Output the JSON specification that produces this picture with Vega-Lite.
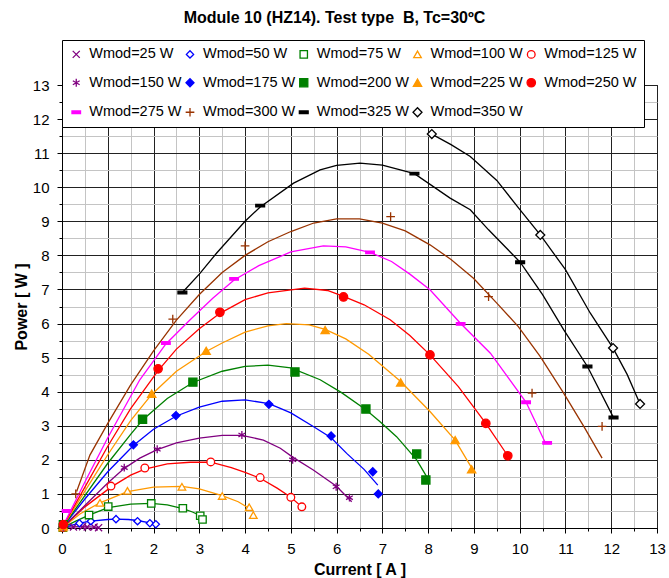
{
  "$schema": "https://vega.github.io/schema/vega-lite/v6.json",
  "width": 595,
  "height": 443,
  "autosize": {"type": "none"},
  "padding": {"left": 62, "top": 85, "right": 12, "bottom": 50},
  "background": "white",
  "title": {"text": "Module 10 (HZ14). Test type\u00a0 B, Tc=30ºC", "font": "Liberation Sans", "fontSize": 16, "fontWeight": "bold", "color": "black", "anchor": "middle", "frame": "group", "dx": -25, "offset": 14},
  "config": {
    "view": {"stroke": "black", "strokeWidth": 1},
    "font": "Liberation Sans",
    "legend": {"strokeColor": "black", "fillColor": "white", "direction": "horizontal"}
  },
  "datasets": {
    "pts": [
      {"series": "Wmod=25 W", "current": 0.25, "power": 0.03},
      {"series": "Wmod=25 W", "current": 0.45, "power": 0.04},
      {"series": "Wmod=25 W", "current": 0.55, "power": 0.03},
      {"series": "Wmod=25 W", "current": 0.7, "power": 0.03},
      {"series": "Wmod=25 W", "current": 0.8, "power": 0.01},
      {"series": "Wmod=50 W", "current": 0.02, "power": 0.01},
      {"series": "Wmod=50 W", "current": 0.38, "power": 0.14},
      {"series": "Wmod=50 W", "current": 0.63, "power": 0.2},
      {"series": "Wmod=50 W", "current": 1.18, "power": 0.26},
      {"series": "Wmod=50 W", "current": 1.65, "power": 0.2},
      {"series": "Wmod=50 W", "current": 1.92, "power": 0.14},
      {"series": "Wmod=50 W", "current": 2.05, "power": 0.11},
      {"series": "Wmod=75 W", "current": 0.02, "power": 0.01},
      {"series": "Wmod=75 W", "current": 0.59, "power": 0.38},
      {"series": "Wmod=75 W", "current": 1.01, "power": 0.63},
      {"series": "Wmod=75 W", "current": 1.95, "power": 0.72},
      {"series": "Wmod=75 W", "current": 2.64, "power": 0.58},
      {"series": "Wmod=75 W", "current": 3.02, "power": 0.36},
      {"series": "Wmod=75 W", "current": 3.07, "power": 0.25},
      {"series": "Wmod=100 W", "current": 0.02, "power": 0.01},
      {"series": "Wmod=100 W", "current": 0.83, "power": 0.74},
      {"series": "Wmod=100 W", "current": 1.43, "power": 1.09},
      {"series": "Wmod=100 W", "current": 2.62, "power": 1.21},
      {"series": "Wmod=100 W", "current": 3.5, "power": 0.94},
      {"series": "Wmod=100 W", "current": 4.09, "power": 0.61},
      {"series": "Wmod=100 W", "current": 4.18, "power": 0.38},
      {"series": "Wmod=125 W", "current": 0.02, "power": 0.02},
      {"series": "Wmod=125 W", "current": 1.07, "power": 1.23},
      {"series": "Wmod=125 W", "current": 1.81, "power": 1.76},
      {"series": "Wmod=125 W", "current": 3.25, "power": 1.94},
      {"series": "Wmod=125 W", "current": 4.33, "power": 1.48},
      {"series": "Wmod=125 W", "current": 5.0, "power": 0.9},
      {"series": "Wmod=125 W", "current": 5.24, "power": 0.62},
      {"series": "Wmod=150 W", "current": 0.03, "power": 0.02},
      {"series": "Wmod=150 W", "current": 1.36, "power": 1.77},
      {"series": "Wmod=150 W", "current": 2.08, "power": 2.31},
      {"series": "Wmod=150 W", "current": 3.93, "power": 2.73},
      {"series": "Wmod=150 W", "current": 5.04, "power": 2.0},
      {"series": "Wmod=150 W", "current": 5.99, "power": 1.21},
      {"series": "Wmod=150 W", "current": 6.28, "power": 0.89},
      {"series": "Wmod=175 W", "current": 0.03, "power": 0.05},
      {"series": "Wmod=175 W", "current": 1.56, "power": 2.44},
      {"series": "Wmod=175 W", "current": 2.49, "power": 3.3},
      {"series": "Wmod=175 W", "current": 4.52, "power": 3.63},
      {"series": "Wmod=175 W", "current": 5.88, "power": 2.7},
      {"series": "Wmod=175 W", "current": 6.79, "power": 1.65},
      {"series": "Wmod=175 W", "current": 6.91, "power": 1.0},
      {"series": "Wmod=200 W", "current": 0.03, "power": 0.1},
      {"series": "Wmod=200 W", "current": 1.76, "power": 3.19},
      {"series": "Wmod=200 W", "current": 2.86, "power": 4.28},
      {"series": "Wmod=200 W", "current": 5.09, "power": 4.58},
      {"series": "Wmod=200 W", "current": 6.64, "power": 3.49},
      {"series": "Wmod=200 W", "current": 7.75, "power": 2.17},
      {"series": "Wmod=200 W", "current": 7.95, "power": 1.41},
      {"series": "Wmod=225 W", "current": 0.03, "power": 0.05},
      {"series": "Wmod=225 W", "current": 1.96, "power": 3.94},
      {"series": "Wmod=225 W", "current": 3.15, "power": 5.2},
      {"series": "Wmod=225 W", "current": 5.75, "power": 5.81},
      {"series": "Wmod=225 W", "current": 7.4, "power": 4.27},
      {"series": "Wmod=225 W", "current": 8.59, "power": 2.58},
      {"series": "Wmod=225 W", "current": 8.95, "power": 1.72},
      {"series": "Wmod=250 W", "current": 0.03, "power": 0.1},
      {"series": "Wmod=250 W", "current": 2.1, "power": 4.67},
      {"series": "Wmod=250 W", "current": 3.45, "power": 6.33},
      {"series": "Wmod=250 W", "current": 6.15, "power": 6.78},
      {"series": "Wmod=250 W", "current": 8.04, "power": 5.08},
      {"series": "Wmod=250 W", "current": 9.26, "power": 3.07},
      {"series": "Wmod=250 W", "current": 9.74, "power": 2.12},
      {"series": "Wmod=275 W", "current": 0.1, "power": 0.5},
      {"series": "Wmod=275 W", "current": 2.27, "power": 5.43},
      {"series": "Wmod=275 W", "current": 3.76, "power": 7.31},
      {"series": "Wmod=275 W", "current": 6.73, "power": 8.09},
      {"series": "Wmod=275 W", "current": 8.71, "power": 5.99},
      {"series": "Wmod=275 W", "current": 10.14, "power": 3.69},
      {"series": "Wmod=275 W", "current": 10.6, "power": 2.5},
      {"series": "Wmod=300 W", "current": 0.3, "power": 1.0},
      {"series": "Wmod=300 W", "current": 2.42, "power": 6.13},
      {"series": "Wmod=300 W", "current": 4.0, "power": 8.28},
      {"series": "Wmod=300 W", "current": 7.18, "power": 9.14},
      {"series": "Wmod=300 W", "current": 9.32, "power": 6.79},
      {"series": "Wmod=300 W", "current": 10.27, "power": 3.96},
      {"series": "Wmod=300 W", "current": 11.8, "power": 2.98},
      {"series": "Wmod=325 W", "current": 2.63, "power": 6.91},
      {"series": "Wmod=325 W", "current": 4.33, "power": 9.46},
      {"series": "Wmod=325 W", "current": 7.7, "power": 10.4},
      {"series": "Wmod=325 W", "current": 10.01, "power": 7.8},
      {"series": "Wmod=325 W", "current": 11.48, "power": 4.74},
      {"series": "Wmod=325 W", "current": 12.05, "power": 3.24},
      {"series": "Wmod=350 W", "current": 8.08, "power": 11.56},
      {"series": "Wmod=350 W", "current": 10.45, "power": 8.6},
      {"series": "Wmod=350 W", "current": 12.04, "power": 5.28},
      {"series": "Wmod=350 W", "current": 12.63, "power": 3.64}
    ],
    "crv": [
      {"series": "Wmod=25 W", "current": 0, "power": 0},
      {"series": "Wmod=25 W", "current": 0.2, "power": 0.03},
      {"series": "Wmod=25 W", "current": 0.4, "power": 0.04},
      {"series": "Wmod=25 W", "current": 0.6, "power": 0.035},
      {"series": "Wmod=25 W", "current": 0.8, "power": 0.02},
      {"series": "Wmod=50 W", "current": 0, "power": 0},
      {"series": "Wmod=50 W", "current": 0.38, "power": 0.14},
      {"series": "Wmod=50 W", "current": 0.63, "power": 0.2},
      {"series": "Wmod=50 W", "current": 1.0, "power": 0.25},
      {"series": "Wmod=50 W", "current": 1.18, "power": 0.26},
      {"series": "Wmod=50 W", "current": 1.45, "power": 0.25},
      {"series": "Wmod=50 W", "current": 1.65, "power": 0.22},
      {"series": "Wmod=50 W", "current": 1.92, "power": 0.15},
      {"series": "Wmod=50 W", "current": 2.0, "power": 0.12},
      {"series": "Wmod=75 W", "current": 0, "power": 0},
      {"series": "Wmod=75 W", "current": 0.3, "power": 0.2},
      {"series": "Wmod=75 W", "current": 0.59, "power": 0.38},
      {"series": "Wmod=75 W", "current": 1.01, "power": 0.6},
      {"series": "Wmod=75 W", "current": 1.5, "power": 0.7},
      {"series": "Wmod=75 W", "current": 1.95, "power": 0.72},
      {"series": "Wmod=75 W", "current": 2.3, "power": 0.68},
      {"series": "Wmod=75 W", "current": 2.64, "power": 0.57},
      {"series": "Wmod=75 W", "current": 2.85, "power": 0.47},
      {"series": "Wmod=75 W", "current": 3.0, "power": 0.38},
      {"series": "Wmod=100 W", "current": 0, "power": 0},
      {"series": "Wmod=100 W", "current": 0.4, "power": 0.42},
      {"series": "Wmod=100 W", "current": 0.83, "power": 0.74},
      {"series": "Wmod=100 W", "current": 1.43, "power": 1.07},
      {"series": "Wmod=100 W", "current": 2.0, "power": 1.2},
      {"series": "Wmod=100 W", "current": 2.62, "power": 1.22},
      {"series": "Wmod=100 W", "current": 3.0, "power": 1.15},
      {"series": "Wmod=100 W", "current": 3.5, "power": 0.95},
      {"series": "Wmod=100 W", "current": 3.85, "power": 0.77},
      {"series": "Wmod=100 W", "current": 4.12, "power": 0.55},
      {"series": "Wmod=125 W", "current": 0, "power": 0},
      {"series": "Wmod=125 W", "current": 0.5, "power": 0.62},
      {"series": "Wmod=125 W", "current": 1.07, "power": 1.2},
      {"series": "Wmod=125 W", "current": 1.5, "power": 1.55},
      {"series": "Wmod=125 W", "current": 1.81, "power": 1.73},
      {"series": "Wmod=125 W", "current": 2.3, "power": 1.88},
      {"series": "Wmod=125 W", "current": 2.8, "power": 1.93},
      {"series": "Wmod=125 W", "current": 3.25, "power": 1.93},
      {"series": "Wmod=125 W", "current": 3.7, "power": 1.77},
      {"series": "Wmod=125 W", "current": 4.0, "power": 1.63},
      {"series": "Wmod=125 W", "current": 4.33, "power": 1.46},
      {"series": "Wmod=125 W", "current": 4.7, "power": 1.17},
      {"series": "Wmod=125 W", "current": 5.0, "power": 0.9},
      {"series": "Wmod=125 W", "current": 5.24, "power": 0.62},
      {"series": "Wmod=150 W", "current": 0, "power": 0},
      {"series": "Wmod=150 W", "current": 0.5, "power": 0.66},
      {"series": "Wmod=150 W", "current": 1.0, "power": 1.32},
      {"series": "Wmod=150 W", "current": 1.36, "power": 1.75},
      {"series": "Wmod=150 W", "current": 1.7, "power": 2.05},
      {"series": "Wmod=150 W", "current": 2.08, "power": 2.3},
      {"series": "Wmod=150 W", "current": 2.5, "power": 2.5},
      {"series": "Wmod=150 W", "current": 3.0, "power": 2.64},
      {"series": "Wmod=150 W", "current": 3.5, "power": 2.72},
      {"series": "Wmod=150 W", "current": 3.93, "power": 2.72},
      {"series": "Wmod=150 W", "current": 4.4, "power": 2.58},
      {"series": "Wmod=150 W", "current": 4.77, "power": 2.34},
      {"series": "Wmod=150 W", "current": 5.04, "power": 2.08},
      {"series": "Wmod=150 W", "current": 5.49, "power": 1.7},
      {"series": "Wmod=150 W", "current": 5.99, "power": 1.23},
      {"series": "Wmod=150 W", "current": 6.33, "power": 0.77},
      {"series": "Wmod=175 W", "current": 0, "power": 0},
      {"series": "Wmod=175 W", "current": 0.5, "power": 0.85},
      {"series": "Wmod=175 W", "current": 1.0, "power": 1.65},
      {"series": "Wmod=175 W", "current": 1.56, "power": 2.42},
      {"series": "Wmod=175 W", "current": 2.0, "power": 2.9},
      {"series": "Wmod=175 W", "current": 2.49, "power": 3.28},
      {"series": "Wmod=175 W", "current": 3.0, "power": 3.55},
      {"series": "Wmod=175 W", "current": 3.5, "power": 3.72},
      {"series": "Wmod=175 W", "current": 4.0, "power": 3.76},
      {"series": "Wmod=175 W", "current": 4.52, "power": 3.65},
      {"series": "Wmod=175 W", "current": 4.77, "power": 3.51},
      {"series": "Wmod=175 W", "current": 5.0, "power": 3.38},
      {"series": "Wmod=175 W", "current": 5.49, "power": 2.98},
      {"series": "Wmod=175 W", "current": 5.88, "power": 2.65},
      {"series": "Wmod=175 W", "current": 6.22, "power": 2.19},
      {"series": "Wmod=175 W", "current": 6.6, "power": 1.72},
      {"series": "Wmod=175 W", "current": 6.9, "power": 1.26},
      {"series": "Wmod=200 W", "current": 0, "power": 0},
      {"series": "Wmod=200 W", "current": 0.5, "power": 0.95},
      {"series": "Wmod=200 W", "current": 1.0, "power": 1.9},
      {"series": "Wmod=200 W", "current": 1.5, "power": 2.75},
      {"series": "Wmod=200 W", "current": 1.76, "power": 3.17},
      {"series": "Wmod=200 W", "current": 2.3, "power": 3.8},
      {"series": "Wmod=200 W", "current": 2.86, "power": 4.27},
      {"series": "Wmod=200 W", "current": 3.5, "power": 4.6},
      {"series": "Wmod=200 W", "current": 4.0, "power": 4.74},
      {"series": "Wmod=200 W", "current": 4.5, "power": 4.78},
      {"series": "Wmod=200 W", "current": 5.0, "power": 4.7},
      {"series": "Wmod=200 W", "current": 5.64, "power": 4.35},
      {"series": "Wmod=200 W", "current": 6.1, "power": 3.98},
      {"series": "Wmod=200 W", "current": 6.64, "power": 3.47},
      {"series": "Wmod=200 W", "current": 6.95, "power": 3.12},
      {"series": "Wmod=200 W", "current": 7.31, "power": 2.68},
      {"series": "Wmod=200 W", "current": 7.75, "power": 2.0},
      {"series": "Wmod=200 W", "current": 7.97, "power": 1.5},
      {"series": "Wmod=225 W", "current": 0, "power": 0},
      {"series": "Wmod=225 W", "current": 0.5, "power": 1.08},
      {"series": "Wmod=225 W", "current": 1.0, "power": 2.15},
      {"series": "Wmod=225 W", "current": 1.5, "power": 3.15},
      {"series": "Wmod=225 W", "current": 1.96, "power": 3.92},
      {"series": "Wmod=225 W", "current": 2.5, "power": 4.6},
      {"series": "Wmod=225 W", "current": 3.15, "power": 5.18},
      {"series": "Wmod=225 W", "current": 3.5, "power": 5.43},
      {"series": "Wmod=225 W", "current": 4.0, "power": 5.75},
      {"series": "Wmod=225 W", "current": 4.5, "power": 5.93},
      {"series": "Wmod=225 W", "current": 4.9, "power": 6.0},
      {"series": "Wmod=225 W", "current": 5.4, "power": 5.96},
      {"series": "Wmod=225 W", "current": 5.75, "power": 5.83},
      {"series": "Wmod=225 W", "current": 6.2, "power": 5.55},
      {"series": "Wmod=225 W", "current": 6.7, "power": 5.1},
      {"series": "Wmod=225 W", "current": 7.4, "power": 4.3},
      {"series": "Wmod=225 W", "current": 8.04, "power": 3.42},
      {"series": "Wmod=225 W", "current": 8.59, "power": 2.58},
      {"series": "Wmod=225 W", "current": 8.97, "power": 1.72},
      {"series": "Wmod=250 W", "current": 0, "power": 0},
      {"series": "Wmod=250 W", "current": 0.5, "power": 1.2},
      {"series": "Wmod=250 W", "current": 1.0, "power": 2.4},
      {"series": "Wmod=250 W", "current": 1.5, "power": 3.5},
      {"series": "Wmod=250 W", "current": 2.1, "power": 4.62},
      {"series": "Wmod=250 W", "current": 2.5, "power": 5.25},
      {"series": "Wmod=250 W", "current": 3.0, "power": 5.85},
      {"series": "Wmod=250 W", "current": 3.45, "power": 6.3},
      {"series": "Wmod=250 W", "current": 4.0, "power": 6.7},
      {"series": "Wmod=250 W", "current": 4.5, "power": 6.9},
      {"series": "Wmod=250 W", "current": 5.3, "power": 7.04},
      {"series": "Wmod=250 W", "current": 5.8, "power": 6.97},
      {"series": "Wmod=250 W", "current": 6.15, "power": 6.8},
      {"series": "Wmod=250 W", "current": 6.6, "power": 6.55},
      {"series": "Wmod=250 W", "current": 7.17, "power": 6.11},
      {"series": "Wmod=250 W", "current": 7.6, "power": 5.65},
      {"series": "Wmod=250 W", "current": 8.04, "power": 5.08},
      {"series": "Wmod=250 W", "current": 8.66, "power": 4.15},
      {"series": "Wmod=250 W", "current": 9.26, "power": 3.07},
      {"series": "Wmod=250 W", "current": 9.74, "power": 2.12},
      {"series": "Wmod=275 W", "current": 0, "power": 0},
      {"series": "Wmod=275 W", "current": 0.5, "power": 1.35},
      {"series": "Wmod=275 W", "current": 1.0, "power": 2.65},
      {"series": "Wmod=275 W", "current": 1.7, "power": 4.35},
      {"series": "Wmod=275 W", "current": 2.27, "power": 5.4},
      {"series": "Wmod=275 W", "current": 2.8, "power": 6.11},
      {"series": "Wmod=275 W", "current": 3.3, "power": 6.75},
      {"series": "Wmod=275 W", "current": 3.76, "power": 7.28},
      {"series": "Wmod=275 W", "current": 4.3, "power": 7.7},
      {"series": "Wmod=275 W", "current": 5.0, "power": 8.1},
      {"series": "Wmod=275 W", "current": 5.71, "power": 8.28},
      {"series": "Wmod=275 W", "current": 6.2, "power": 8.25},
      {"series": "Wmod=275 W", "current": 6.73, "power": 8.09},
      {"series": "Wmod=275 W", "current": 7.2, "power": 7.82},
      {"series": "Wmod=275 W", "current": 7.6, "power": 7.45},
      {"series": "Wmod=275 W", "current": 8.04, "power": 6.99},
      {"series": "Wmod=275 W", "current": 8.71, "power": 6.0},
      {"series": "Wmod=275 W", "current": 9.36, "power": 5.13},
      {"series": "Wmod=275 W", "current": 10.14, "power": 3.69},
      {"series": "Wmod=275 W", "current": 10.56, "power": 2.5},
      {"series": "Wmod=300 W", "current": 0.32, "power": 1.07},
      {"series": "Wmod=300 W", "current": 0.61, "power": 2.14},
      {"series": "Wmod=300 W", "current": 1.0, "power": 3.07},
      {"series": "Wmod=300 W", "current": 1.5, "power": 4.2},
      {"series": "Wmod=300 W", "current": 2.0, "power": 5.2},
      {"series": "Wmod=300 W", "current": 2.5, "power": 6.1},
      {"series": "Wmod=300 W", "current": 3.0, "power": 6.85},
      {"series": "Wmod=300 W", "current": 3.5, "power": 7.5},
      {"series": "Wmod=300 W", "current": 4.0, "power": 8.0},
      {"series": "Wmod=300 W", "current": 4.5, "power": 8.4},
      {"series": "Wmod=300 W", "current": 5.0, "power": 8.7},
      {"series": "Wmod=300 W", "current": 5.5, "power": 8.95},
      {"series": "Wmod=300 W", "current": 6.0, "power": 9.07},
      {"series": "Wmod=300 W", "current": 6.5, "power": 9.07},
      {"series": "Wmod=300 W", "current": 7.0, "power": 8.95},
      {"series": "Wmod=300 W", "current": 7.5, "power": 8.72},
      {"series": "Wmod=300 W", "current": 8.04, "power": 8.31},
      {"series": "Wmod=300 W", "current": 8.5, "power": 7.88},
      {"series": "Wmod=300 W", "current": 8.99, "power": 7.33},
      {"series": "Wmod=300 W", "current": 9.5, "power": 6.6},
      {"series": "Wmod=300 W", "current": 9.97, "power": 5.91},
      {"series": "Wmod=300 W", "current": 10.45, "power": 5.03},
      {"series": "Wmod=300 W", "current": 10.96, "power": 3.96},
      {"series": "Wmod=300 W", "current": 11.4, "power": 2.98},
      {"series": "Wmod=300 W", "current": 11.8, "power": 2.05},
      {"series": "Wmod=325 W", "current": 2.63, "power": 6.91},
      {"series": "Wmod=325 W", "current": 3.0, "power": 7.45},
      {"series": "Wmod=325 W", "current": 3.38, "power": 8.07},
      {"series": "Wmod=325 W", "current": 4.0, "power": 9.0},
      {"series": "Wmod=325 W", "current": 4.33, "power": 9.42},
      {"series": "Wmod=325 W", "current": 5.06, "power": 10.12},
      {"series": "Wmod=325 W", "current": 5.64, "power": 10.51},
      {"series": "Wmod=325 W", "current": 6.0, "power": 10.64},
      {"series": "Wmod=325 W", "current": 6.51, "power": 10.71},
      {"series": "Wmod=325 W", "current": 7.0, "power": 10.65},
      {"series": "Wmod=325 W", "current": 7.7, "power": 10.4},
      {"series": "Wmod=325 W", "current": 8.48, "power": 9.68},
      {"series": "Wmod=325 W", "current": 8.92, "power": 9.34},
      {"series": "Wmod=325 W", "current": 9.32, "power": 8.75},
      {"series": "Wmod=325 W", "current": 10.01, "power": 7.8},
      {"series": "Wmod=325 W", "current": 10.5, "power": 6.85},
      {"series": "Wmod=325 W", "current": 10.96, "power": 5.82},
      {"series": "Wmod=325 W", "current": 11.48, "power": 4.74},
      {"series": "Wmod=325 W", "current": 12.05, "power": 3.24},
      {"series": "Wmod=350 W", "current": 8.08, "power": 11.56},
      {"series": "Wmod=350 W", "current": 8.5, "power": 11.25},
      {"series": "Wmod=350 W", "current": 8.92, "power": 10.9},
      {"series": "Wmod=350 W", "current": 9.5, "power": 10.2},
      {"series": "Wmod=350 W", "current": 10.0, "power": 9.35},
      {"series": "Wmod=350 W", "current": 10.45, "power": 8.6},
      {"series": "Wmod=350 W", "current": 11.0, "power": 7.58},
      {"series": "Wmod=350 W", "current": 11.54, "power": 6.31},
      {"series": "Wmod=350 W", "current": 12.04, "power": 5.28},
      {"series": "Wmod=350 W", "current": 12.35, "power": 4.5},
      {"series": "Wmod=350 W", "current": 12.63, "power": 3.64}
    ]
  },
  "encoding": {
    "x": {
      "field": "current", "type": "quantitative",
      "scale": {"domain": [0, 13], "nice": false, "zero": false},
      "axis": {
        "title": "Current [ A ]",
        "values": [0,0.5,1,1.5,2,2.5,3,3.5,4,4.5,5,5.5,6,6.5,7,7.5,8,8.5,9,9.5,10,10.5,11,11.5,12,12.5,13],
        "labelExpr": "datum.value % 1 === 0 ? format(datum.value, 'd') : ''",
        "grid": true,
        "gridColor": {"condition": {"test": "datum.value % 1 === 0", "value": "#222222"}, "value": "#c4c4c4"},
        "gridWidth": 1,
        "tickSize": {"condition": {"test": "datum.value % 1 === 0", "value": 5}, "value": 3},
        "tickColor": "black",
        "domainColor": "black",
        "labelFont": "Liberation Sans", "labelFontSize": 15, "labelColor": "black", "labelPadding": 8, "labelFlush": false, "labelOverlap": false,
        "titleFont": "Liberation Sans", "titleFontSize": 16, "titleFontWeight": "bold", "titleColor": "black", "titlePadding": 5
      }
    },
    "y": {
      "field": "power", "type": "quantitative",
      "scale": {"domain": [0, 13], "nice": false, "zero": false},
      "axis": {
        "title": "Power [ W ]",
        "values": [0,0.5,1,1.5,2,2.5,3,3.5,4,4.5,5,5.5,6,6.5,7,7.5,8,8.5,9,9.5,10,10.5,11,11.5,12,12.5,13],
        "labelExpr": "datum.value % 1 === 0 ? format(datum.value, 'd') : ''",
        "grid": true,
        "gridColor": {"condition": {"test": "datum.value % 1 === 0", "value": "#222222"}, "value": "#c4c4c4"},
        "gridWidth": 1,
        "tickSize": {"condition": {"test": "datum.value % 1 === 0", "value": 5}, "value": 3},
        "tickColor": "black",
        "domainColor": "black",
        "labelFont": "Liberation Sans", "labelFontSize": 15, "labelColor": "black", "labelPadding": 8, "labelFlush": false, "labelOverlap": false,
        "titleFont": "Liberation Sans", "titleFontSize": 16, "titleFontWeight": "bold", "titleColor": "black", "titlePadding": 3
      }
    }
  },
  "layer": [
    {
      "data": {"name": "crv"},
      "mark": {"type": "line", "strokeWidth": 1.3, "clip": true},
      "encoding": {
        "color": {
          "field": "series", "type": "nominal", "legend": null,
          "scale": {
            "domain": ["Wmod=350 W","Wmod=325 W","Wmod=300 W","Wmod=275 W","Wmod=250 W","Wmod=225 W","Wmod=200 W","Wmod=175 W","Wmod=150 W","Wmod=125 W","Wmod=100 W","Wmod=75 W","Wmod=50 W","Wmod=25 W"],
            "range": ["#000000","#000000","#993300","#ff00ff","#ff0000","#ff9900","#008000","#0000ff","#800080","#ff0000","#ff9900","#008000","#0000ff","#800080"]
          }
        }
      }
    },
    {
      "data": {"name": "pts"},
      "mark": {"type": "point", "strokeWidth": 1.3, "opacity": 1},
      "encoding": {
        "stroke": {
          "field": "series", "type": "nominal",
          "scale": {
            "domain": ["Wmod=25 W","Wmod=50 W","Wmod=75 W","Wmod=100 W","Wmod=125 W","Wmod=150 W","Wmod=175 W","Wmod=200 W","Wmod=225 W","Wmod=250 W","Wmod=275 W","Wmod=300 W","Wmod=325 W","Wmod=350 W"],
            "range": ["#800080","#0000ff","#008000","#ff9900","#ff0000","#800080","#0000ff","#008000","#ff9900","#ff0000","#ff00ff","#993300","#000000","#000000"]
          },
          "legend": {"title": null, "orient": "none", "direction": "horizontal", "legendX": 0, "legendY": -45, "columns": 5, "padding": 7, "strokeColor": "black", "fillColor": "white", "labelFont": "Liberation Sans", "labelFontSize": 14.5, "labelColor": "black", "labelOffset": 5.75, "columnPadding": 0.75, "rowPadding": 13.5, "symbolStrokeWidth": 1.3, "labelLimit": 0}
        },
        "fill": {
          "field": "series", "type": "nominal",
          "scale": {
            "domain": ["Wmod=25 W","Wmod=50 W","Wmod=75 W","Wmod=100 W","Wmod=125 W","Wmod=150 W","Wmod=175 W","Wmod=200 W","Wmod=225 W","Wmod=250 W","Wmod=275 W","Wmod=300 W","Wmod=325 W","Wmod=350 W"],
            "range": ["transparent","#ffffff","#ffffff","#ffffff","#ffffff","transparent","#0000ff","#008000","#ff9900","#ff0000","#ff00ff","transparent","#000000","#ffffff"]
          },
          "legend": {"title": null, "orient": "none", "direction": "horizontal", "legendX": 0, "legendY": -45, "columns": 5, "padding": 7, "strokeColor": "black", "fillColor": "white", "labelFont": "Liberation Sans", "labelFontSize": 14.5, "labelColor": "black", "labelOffset": 5.75, "columnPadding": 0.75, "rowPadding": 13.5, "symbolStrokeWidth": 1.3, "labelLimit": 0}
        },
        "shape": {
          "field": "series", "type": "nominal",
          "scale": {
            "domain": ["Wmod=25 W","Wmod=50 W","Wmod=75 W","Wmod=100 W","Wmod=125 W","Wmod=150 W","Wmod=175 W","Wmod=200 W","Wmod=225 W","Wmod=250 W","Wmod=275 W","Wmod=300 W","Wmod=325 W","Wmod=350 W"],
            "range": ["M-1,-1L1,1M-1,1L1,-1","diamond","square","triangle-up","circle","M0,-1L0,1M-0.87,-0.5L0.87,0.5M-0.87,0.5L0.87,-0.5","diamond","square","triangle-up","circle","M-1,-0.3L1,-0.3L1,0.3L-1,0.3Z","M-1,0L1,0M0,-1L0,1","M-1,-0.3L1,-0.3L1,0.3L-1,0.3Z","diamond"]
          },
          "legend": {"title": null, "orient": "none", "direction": "horizontal", "legendX": 0, "legendY": -45, "columns": 5, "padding": 7, "strokeColor": "black", "fillColor": "white", "labelFont": "Liberation Sans", "labelFontSize": 14.5, "labelColor": "black", "labelOffset": 5.75, "columnPadding": 0.75, "rowPadding": 13.5, "symbolStrokeWidth": 1.3, "labelLimit": 0}
        },
        "size": {
          "field": "series", "type": "nominal",
          "scale": {
            "domain": ["Wmod=25 W","Wmod=50 W","Wmod=75 W","Wmod=100 W","Wmod=125 W","Wmod=150 W","Wmod=175 W","Wmod=200 W","Wmod=225 W","Wmod=250 W","Wmod=275 W","Wmod=300 W","Wmod=325 W","Wmod=350 W"],
            "range": [50, 80, 64, 100, 64, 110, 100, 64, 110, 80, 90, 100, 36, 80]
          },
          "legend": {"title": null, "orient": "none", "direction": "horizontal", "legendX": 0, "legendY": -45, "columns": 5, "padding": 7, "strokeColor": "black", "fillColor": "white", "labelFont": "Liberation Sans", "labelFontSize": 14.5, "labelColor": "black", "labelOffset": 5.75, "columnPadding": 0.75, "rowPadding": 13.5, "symbolStrokeWidth": 1.3, "labelLimit": 0}
        }
      }
    }
  ]
}
